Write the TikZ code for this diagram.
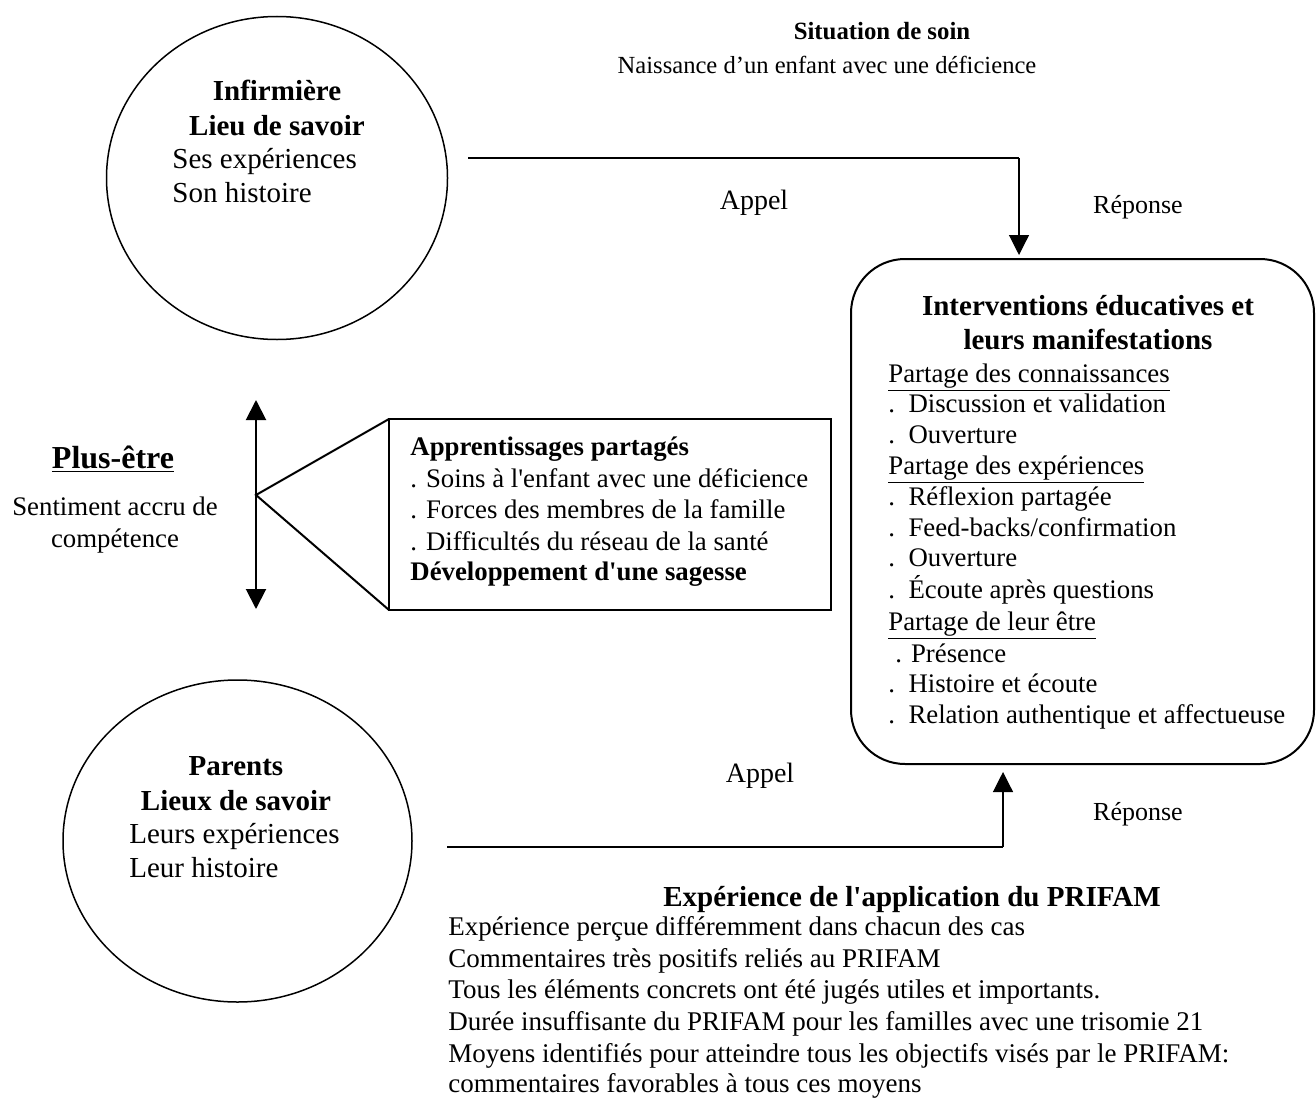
\documentclass[tikz,border=0pt]{standalone}
\usepackage{fontspec}
\setmainfont{Liberation Serif}
\usetikzlibrary{arrows.meta,shapes.geometric}
\newcommand{\fsz}[1]{\fontsize{#1}{#1}\selectfont}
\newcommand{\ap}{\textquotesingle}

\begin{document}
\begin{tikzpicture}[x=0.5pt,y=-0.5pt,
  lt/.style={inner sep=0pt, anchor=base west},
  ct/.style={inner sep=0pt, anchor=base},
  link/.style={line width=1pt},
  thin link/.style={line width=0.6pt},
  tip/.style={-{Triangle[length=10pt,width=10pt]}},
  bubble/.style={ellipse, draw, line width=0.75pt, inner sep=0pt, outer sep=0pt},
  panel/.style={draw, line width=1pt, inner sep=0pt, outer sep=0pt},
  big/.style={font=\fsz{14.5}},
  mid/.style={font=\fsz{13.4}},
]
\useasboundingbox (0,0) rectangle (1316,1097);

% ---------- header ----------
\node[ct, font=\fsz{12.4}\bfseries] (sit) at (882,40) {Situation de soin};
\node[ct, font=\fsz{12.3}] (sitd) at (827,74) {Naissance d’un enfant avec une déficience};

% ---------- nurse ----------
\node[bubble, minimum width=170.5pt, minimum height=161.5pt] (inf) at (277,178) {};
\node[ct, font=\fsz{14.5}\bfseries] (inf1) at (277,101) {Infirmière};
\node[ct, font=\fsz{14.5}\bfseries] (inf2) at (277,135) {Lieu de savoir};
\node[lt, big] (inf3) at (172,168) {Ses expériences};
\node[lt, big] (inf4) at (172,202) {Son histoire};

% ---------- parents ----------
\node[bubble, minimum width=174.5pt, minimum height=161pt] (par) at (237.5,841) {};
\node[ct, font=\fsz{14.5}\bfseries] (par1) at (236,775) {Parents};
\node[ct, font=\fsz{14.5}\bfseries] (par2) at (236,810) {Lieux de savoir};
\node[lt, big] (par3) at (129,843) {Leurs expériences};
\node[lt, big] (par4) at (129,877) {Leur histoire};

% ---------- educational interventions ----------
\node[panel, rounded corners=27pt, minimum width=231.5pt, minimum height=252.5pt] (iv) at (1082.5,511.5) {};
\node[ct, font=\fsz{14.5}\bfseries] (iv1) at (1088,315) {Interventions éducatives et};
\node[ct, font=\fsz{14.5}\bfseries] (iv2) at (1088,349) {leurs manifestations};
\node[lt, mid] (iv3) at (888,382) {\underline{Partage des connaissances}};
\node[lt, mid] (iv4) at (888,412) {.\ \ Discussion et validation};
\node[lt, mid] (iv5) at (888,443) {.\ \ Ouverture};
\node[lt, mid] (iv6) at (888,474) {\underline{Partage des expériences}};
\node[lt, mid] (iv7) at (888,505) {.\ \ Réflexion partagée};
\node[lt, mid] (iv8) at (888,536) {.\ \ Feed-backs/confirmation};
\node[lt, mid] (iv9) at (888,566) {.\ \ Ouverture};
\node[lt, mid] (iv10) at (888,598) {.\ \ Écoute après questions};
\node[lt, mid] (iv11) at (888,630) {\underline{Partage de leur être}};
\node[lt, mid] (iv12) at (895,662) {. Présence};
\node[lt, mid] (iv13) at (888,692) {.\ \ Histoire et écoute};
\node[lt, mid] (iv14) at (888,723) {.\ \ Relation authentique et affectueuse};

% ---------- shared learning ----------
\node[panel, minimum width=221pt, minimum height=95.5pt] (app) at (610,514.5) {};
\node[lt, font=\fsz{13.4}\bfseries] (app1) at (410,455) {Apprentissages partagés};
\node[lt, mid] (app2) at (410,487) {. Soins à l\ap enfant avec une déficience};
\node[lt, mid] (app3) at (410,518) {. Forces des membres de la famille};
\node[lt, mid] (app4) at (410,550) {. Difficultés du réseau de la santé};
\node[lt, font=\fsz{13.4}\bfseries] (app5) at (410,580) {Développement d\ap une sagesse};

% ---------- well-being ----------
\node[ct, font=\fsz{16}\bfseries] (plus) at (113,468) {\underline{Plus-être}};
\node[ct, mid] (plus1) at (115,515) {Sentiment accru de};
\node[ct, mid] (plus2) at (115,547) {compétence};

\coordinate (up) at (256,400);
\coordinate (dn) at (256,609);
\coordinate (apex) at (256,495);
\draw[link, {Triangle[length=10pt,width=10pt]}-{Triangle[length=10pt,width=10pt]}] (up) -- (dn);
\draw[link] (app.north west) -- (apex) -- (app.south west);

% ---------- call / response, nurse side ----------
\coordinate (t1) at (468,158);
\coordinate (t2) at (1019,158);
\draw[link] (t1) -- (t2);
\draw[thin link, tip, shorten >=2pt] (t2) -- (t2 |- iv.north);
\node[ct, font=\fsz{14}] (ap1) at (754,209) {Appel};
\node[ct, font=\fsz{13}] (re1) at (1138,213) {Réponse};

% ---------- call / response, parents side ----------
\coordinate (b1) at (447,847);
\coordinate (b2) at (1003,847);
\draw[link] (b1) -- (b2);
\draw[thin link, tip, shorten >=4pt] (b2) -- (b2 |- iv.south);
\node[ct, font=\fsz{14}] (ap2) at (760,782) {Appel};
\node[ct, font=\fsz{13}] (re2) at (1138,820) {Réponse};

% ---------- PRIFAM experience ----------
\node[ct, font=\fsz{14.5}\bfseries] (exp) at (912,906) {Expérience de l\ap application du PRIFAM};
\node[lt, font=\fsz{13.5}] (exp1) at (448,935) {Expérience perçue différemment dans chacun des cas};
\node[lt, font=\fsz{13.5}] (exp2) at (448,967) {Commentaires très positifs reliés au PRIFAM};
\node[lt, font=\fsz{13.5}] (exp3) at (448,998) {Tous les éléments concrets ont été jugés utiles et importants.};
\node[lt, font=\fsz{13.5}] (exp4) at (448,1030) {Durée insuffisante du PRIFAM pour les familles avec une trisomie 21};
\node[lt, font=\fsz{13.5}] (exp5) at (448,1062) {Moyens identifiés pour atteindre tous les objectifs visés par le PRIFAM:};
\node[lt, font=\fsz{13.5}] (exp6) at (448,1092) {commentaires favorables à tous ces moyens};
\end{tikzpicture}
\end{document}
